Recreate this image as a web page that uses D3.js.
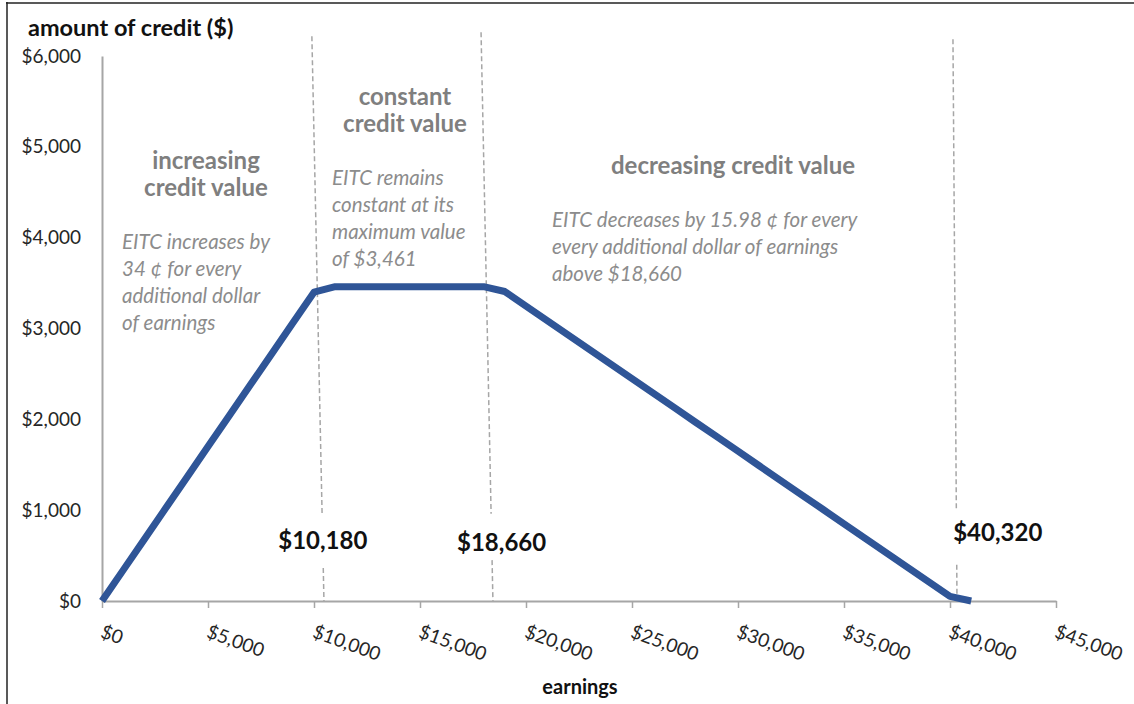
<!DOCTYPE html>
<html>
<head>
<meta charset="utf-8">
<script src="https://cdn.jsdelivr.net/npm/d3@7"></script>
<style>
  body { margin: 0; background: #fff; }
  text { font-family: Lato, "Open Sans", sans-serif; }
</style>
</head>
<body>
<div class="chart"></div>
<script>
// Data: EITC amount by earnings, one point per $1,000
var earnings = [0, 1000, 2000, 3000, 4000, 5000, 6000, 7000, 8000, 9000, 10000,
  11000, 12000, 13000, 14000, 15000, 16000, 17000, 18000, 19000, 20000,
  21000, 22000, 23000, 24000, 25000, 26000, 27000, 28000, 29000, 30000,
  31000, 32000, 33000, 34000, 35000, 36000, 37000, 38000, 39000, 40000, 41000];
var credit = [0, 340, 680, 1020, 1360, 1700, 2040, 2380, 2720, 3060, 3400,
  3461, 3461, 3461, 3461, 3461, 3461, 3461, 3461, 3407, 3247,
  3087, 2927, 2768, 2608, 2448, 2288, 2128, 1968, 1809, 1649,
  1489, 1329, 1169, 1010, 850, 690, 530, 370, 211, 51, 0];

var xTicks = [0, 5000, 10000, 15000, 20000, 25000, 30000, 35000, 40000, 45000];
var yTicks = [0, 1000, 2000, 3000, 4000, 5000, 6000];

// phase thresholds and the dashed guides (earnings at top/bottom, credit range of gap)
var thresholds = ["$10,180", "$18,660", "$40,320"];
var thresholdValues = [10180, 18660, 40320];
var thresholdLabelY = [573, 551, 661];
var guideTopX = [9900, 17880, 40140];
var guideBotX = [10470, 18440, 40330];
var guideTopY = [6218, 6262, 6185];
var gapHigh = [970, 960, 990];
var gapLow = [364, 450, 400];

var svgWidth = 1134;
var svgHeight = 704;
var margin = { top: 56, right: 78, bottom: 103, left: 102 };
var width = svgWidth - margin.left - margin.right;
var height = svgHeight - margin.top - margin.bottom;

var svg = d3.select(".chart")
  .append("svg")
  .attr("width", svgWidth)
  .attr("height", svgHeight);

// frame lines (left and top)
svg.append("line").attr("x1", 7).attr("y1", 2).attr("x2", 7).attr("y2", svgHeight)
  .attr("stroke", "#222").attr("stroke-width", 1.5);
svg.append("line").attr("x1", 6).attr("y1", 3).attr("x2", svgWidth).attr("y2", 3)
  .attr("stroke", "#222").attr("stroke-width", 1.5);

var chart = svg.append("g")
  .attr("transform", "translate(" + margin.left + "," + margin.top + ")");

var x = d3.scaleLinear().domain([0, 45000]).range([0, width]);
var y = d3.scaleLinear().domain([0, 6000]).range([height, 0]);

var fmt = d3.format("$,");

// x axis
var xAxis = chart.append("g")
  .attr("transform", "translate(0," + height + ")")
  .call(d3.axisBottom(x).tickValues(xTicks).tickSize(7).tickSizeOuter(0).tickFormat(fmt));
xAxis.select(".domain").attr("stroke", "#a6a6a6").attr("stroke-width", 2);
xAxis.selectAll(".tick line").attr("stroke", "#a6a6a6").attr("stroke-width", 1.5);
xAxis.selectAll(".tick text")
  .attr("y", 0).attr("dy", 0)
  .attr("text-anchor", "start")
  .attr("transform", "translate(-3,36) rotate(20)")
  .attr("font-size", "19px")
  .attr("font-family", "Lato, sans-serif")
  .attr("fill", "#262626");

// y axis
var yAxis = chart.append("g")
  .call(d3.axisLeft(y).tickValues(yTicks).tickSize(0).tickPadding(21).tickFormat(fmt));
yAxis.select(".domain").attr("stroke", "#a6a6a6").attr("stroke-width", 2);
yAxis.selectAll(".tick text")
  .attr("font-size", "19px")
  .attr("font-family", "Lato, sans-serif")
  .attr("fill", "#262626");

// dashed guides, broken around the threshold labels
thresholds.forEach(function(t, i) {
  var lean = function(v) {
    var f = (v - guideTopY[i]) / (0 - guideTopY[i]);
    return x(guideTopX[i] + f * (guideBotX[i] - guideTopX[i]));
  };
  [[guideTopY[i], gapHigh[i]], [gapLow[i], 0]].forEach(function(seg) {
    chart.append("line")
      .attr("x1", lean(seg[0])).attr("y1", y(seg[0]))
      .attr("x2", lean(seg[1])).attr("y2", y(seg[1]))
      .attr("stroke", "#a6a6a6")
      .attr("stroke-width", 1.5)
      .attr("stroke-dasharray", "5,3");
  });
});

// credit line
var points = earnings.map(function(e, i) { return [e, credit[i]]; });
chart.append("path")
  .datum(points)
  .attr("fill", "none")
  .attr("stroke", "#2f5597")
  .attr("stroke-width", 7)
  .attr("stroke-linejoin", "round")
  .attr("d", d3.line().x(function(d) { return x(d[0]); }).y(function(d) { return y(d[1]); }));

// threshold labels
var labelShift = [5, 4, 41];
thresholds.forEach(function(t, i) {
  chart.append("text")
    .attr("x", x(thresholdValues[i]) + labelShift[i])
    .attr("y", y(thresholdLabelY[i]))
    .attr("text-anchor", "middle")
    .attr("font-size", "24px")
    .attr("font-weight", "bold")
    .attr("fill", "#111")
    .text(t);
});

// phase headings
var headings = [
  { lines: ["increasing", "credit value"], cx: 104, y: 113 },
  { lines: ["constant", "credit value"], cx: 303, y: 49 },
  { lines: ["decreasing credit value"], cx: 631, y: 118 }
];
headings.forEach(function(h) {
  chart.append("text")
    .attr("x", h.cx).attr("y", h.y)
    .attr("text-anchor", "middle")
    .attr("font-size", "24px")
    .attr("font-weight", "bold")
    .attr("fill", "#7f7f7f")
    .selectAll("tspan")
    .data(h.lines)
    .enter().append("tspan")
      .attr("x", h.cx)
      .attr("dy", function(d, i) { return i === 0 ? 0 : 27; })
      .text(function(d) { return d; });
});

// notes
var notes = [
  { lines: ["EITC increases by", "34 \u00a2 for every", "additional dollar", "of earnings"], x: 20, y: 193 },
  { lines: ["EITC remains", "constant at its", "maximum value", "of $3,461"], x: 230, y: 129 },
  { lines: ["EITC decreases by 15.98 \u00a2 for every", "every additional dollar of earnings", "above $18,660"], x: 450, y: 171 }
];
notes.forEach(function(n) {
  chart.append("text")
    .attr("x", n.x).attr("y", n.y)
    .attr("font-size", "20.5px")
    .attr("font-style", "italic")
    .attr("fill", "#8c8c8c")
    .selectAll("tspan")
    .data(n.lines)
    .enter().append("tspan")
      .attr("x", n.x)
      .attr("dy", function(d, i) { return i === 0 ? 0 : 27; })
      .text(function(d) { return d; });
});

// axis titles
svg.append("text")
  .attr("x", 28).attr("y", 36)
  .attr("font-size", "23.5px")
  .attr("font-weight", "bold")
  .attr("fill", "#111")
  .text("amount of credit ($)");

svg.append("text")
  .attr("x", 580).attr("y", 694)
  .attr("text-anchor", "middle")
  .attr("font-size", "20px")
  .attr("font-weight", "bold")
  .attr("fill", "#111")
  .text("earnings");
</script>
</body>
</html>
